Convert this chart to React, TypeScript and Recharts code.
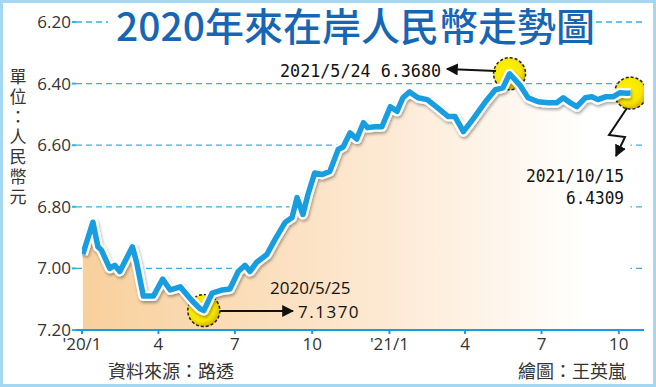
import React from 'react';
import { ComposedChart, Area, Line, XAxis, YAxis, CartesianGrid } from 'recharts';

// onshore CNY per USD
const dates = [
  '2020-01-02', '2020-01-14', '2020-01-20', '2020-01-24', '2020-02-03', '2020-02-09', '2020-02-15',
  '2020-03-01', '2020-03-06', '2020-03-14', '2020-03-26', '2020-04-06', '2020-04-15', '2020-04-27',
  '2020-05-11', '2020-05-20', '2020-05-25', '2020-06-04', '2020-06-16', '2020-06-25', '2020-07-05',
  '2020-07-13', '2020-07-19', '2020-07-27', '2020-08-08', '2020-08-18', '2020-08-30', '2020-09-07',
  '2020-09-13', '2020-09-20', '2020-09-26', '2020-10-04', '2020-10-13', '2020-10-22', '2020-11-01',
  '2020-11-07', '2020-11-15', '2020-11-23', '2020-12-01', '2020-12-06', '2020-12-15', '2020-12-23',
  '2021-01-02', '2021-01-10', '2021-01-17', '2021-01-25', '2021-02-04', '2021-02-15', '2021-02-27',
  '2021-03-12', '2021-03-20', '2021-03-30', '2021-04-10', '2021-04-25', '2021-05-07', '2021-05-16',
  '2021-05-24', '2021-06-05', '2021-06-15', '2021-06-27', '2021-07-09', '2021-07-19', '2021-07-27',
  '2021-08-04', '2021-08-12', '2021-08-22', '2021-08-30', '2021-09-06', '2021-09-15', '2021-09-24',
  '2021-10-02', '2021-10-11', '2021-10-15',
];
const rates = [
  6.954, 6.85, 6.93, 6.94, 7.0, 6.99, 7.01,
  6.93, 6.98, 7.09, 7.09, 7.035, 7.07, 7.06,
  7.105, 7.13, 7.137, 7.08, 7.07, 7.067, 7.01,
  6.99, 7.01, 6.98, 6.955, 6.905, 6.85, 6.835,
  6.77, 6.825, 6.76, 6.69, 6.695, 6.685, 6.614,
  6.605, 6.56, 6.58, 6.527, 6.543, 6.54, 6.54,
  6.475, 6.49, 6.446, 6.427, 6.446, 6.452, 6.478,
  6.507, 6.507, 6.556, 6.517, 6.46, 6.42, 6.414,
  6.368, 6.404, 6.446, 6.459, 6.462, 6.462, 6.446,
  6.462, 6.475, 6.446, 6.443, 6.452, 6.443, 6.443,
  6.43, 6.431, 6.4309,
];
const xTickDates = ['2020-01-01', '2020-04-01', '2020-07-01', '2020-10-01', '2021-01-01', '2021-04-01', '2021-07-01', '2021-10-01'];
const xTickLabels = ["'20/1", '4', '7', '10', "'21/1", '4', '7', '10'];
const yTicks = [6.2, 6.4, 6.6, 6.8, 7.0, 7.2];
const highlightDates = ['2020-05-25', '2021-05-24', '2021-10-15'];

const dayOf = (s: string) => {
  const [y, m, d] = s.split('-').map(Number);
  return (Date.UTC(y, m - 1, d) - Date.UTC(2020, 0, 1)) / 86400000;
};

const data = dates.map((d, i) => ({ day: dayOf(d), rate: rates[i], mark: highlightDates.includes(d) }));
const xTicks = xTickDates.map(dayOf);

const BLUE = '#179de0';
const GRID = '#3aaee0';
const TXT = '#333';
const SANS = '"Open Sans", "Noto Sans CJK TC", sans-serif';
const CJK = '"Noto Sans CJK TC", sans-serif';
const MONO = '"DejaVu Sans Mono", monospace';

// yellow dashed circles behind the line at the three labelled points
const HighlightDot = (props: any) => {
  if (!props.payload || !props.payload.mark) return <g key={props.index} />;
  return (
    <circle key={props.index} cx={props.cx} cy={props.cy} r={16} fill="url(#dotFill)" stroke="#222" strokeWidth={1.5} strokeDasharray="3 2" />
  );
};

export default function App() {
  return (
    <div style={{ position: 'absolute', left: 0, top: 0, width: 656, height: 387, background: '#fff' }}>
      <ComposedChart width={656} height={387} data={data} margin={{ top: 22, right: 12, bottom: 27, left: 0 }}>
        <defs>
          <linearGradient id="areaFill" x1="0" y1="0" x2="1" y2="0">
            <stop offset="0%" stopColor="#f8d09c" />
            <stop offset="55%" stopColor="#fde9d3" />
            <stop offset="92%" stopColor="#ffffff" />
          </linearGradient>
          <radialGradient id="dotFill" cx="42%" cy="40%" r="65%">
            <stop offset="0%" stopColor="#fff400" />
            <stop offset="65%" stopColor="#f7e600" />
            <stop offset="100%" stopColor="#cfa800" />
          </radialGradient>
          <filter id="lineShadow" x="-5%" y="-5%" width="110%" height="115%">
            <feDropShadow dx="1" dy="2" stdDeviation="1.5" floodColor="#000" floodOpacity="0.35" />
          </filter>
        </defs>
        <CartesianGrid vertical={false} stroke={GRID} strokeDasharray="6 4" strokeWidth={1.3} />
        <XAxis
          dataKey="day"
          type="number"
          domain={[0, 669]}
          ticks={xTicks}
          tickFormatter={(v: number) => xTickLabels[xTicks.indexOf(v)]}
          padding={{ left: 6, right: 0 }}
          axisLine={{ stroke: BLUE, strokeWidth: 2 }}
          tickLine={{ stroke: BLUE, strokeWidth: 2 }}
          tickSize={4}
          tickMargin={4}
          tick={{ fill: TXT, fontSize: 17, fontFamily: SANS }}
          height={30}
          allowDataOverflow
        />
        <YAxis
          type="number"
          reversed
          domain={[6.2, 7.2]}
          ticks={yTicks}
          tickFormatter={(v: number) => v.toFixed(2)}
          axisLine={false}
          tickLine={{ stroke: GRID, strokeWidth: 2 }}
          tickSize={4}
          tickMargin={1}
          tick={{ fill: TXT, fontSize: 17, fontFamily: SANS }}
          width={76}
          allowDataOverflow
        />
        <Area dataKey="rate" type="linear" baseValue={7.2} fill="url(#areaFill)" fillOpacity={1} stroke="none" dot={HighlightDot} activeDot={false} zIndex={100} isAnimationActive={false} />
        <Line dataKey="rate" type="linear" stroke="#fff" strokeWidth={10} dot={false} filter="url(#lineShadow)" strokeLinejoin="round" zIndex={1500} isAnimationActive={false} />
        <Line dataKey="rate" type="linear" stroke={BLUE} strokeWidth={5.5} dot={false} strokeLinejoin="round" zIndex={1501} isAnimationActive={false} />
      </ComposedChart>

      <svg width={656} height={387} style={{ position: 'absolute', left: 0, top: 0, pointerEvents: 'none' }}>
        <defs>
          <marker id="arrowHead" viewBox="0 0 10 10" refX="9" refY="5" markerWidth="6" markerHeight="6" orient="auto-start-reverse">
            <path d="M0,0 L10,5 L0,10 z" fill="#111" />
          </marker>
        </defs>
        {/* frame */}
        <rect x={1.5} y={1.5} width={653} height={384} fill="none" stroke="#a4d7f1" strokeWidth={3} />
        {/* title */}
        <rect x={108} y={5} width={488} height={48} fill="#fff" />
        <text x={116} y={41} fontSize={39} fontWeight={500} fill="#1766b4" fontFamily={CJK}>
          2020年來在岸人民幣走勢圖
        </text>
        {/* unit */}
        <text x={18} y={68} fontSize={17} fill={TXT} fontFamily={CJK} letterSpacing={3} style={{ writingMode: 'vertical-rl' }}>
          單位：人民幣元
        </text>
        {/* footer */}
        <text x={108} y={378} fontSize={18} fill={TXT} fontFamily={CJK}>資料來源：路透</text>
        <text x={626} y={378} fontSize={18} fill={TXT} fontFamily={CJK} textAnchor="end">繪圖：王英嵐</text>

        {/* peak annotation */}
        <text x={441} y={77} fontSize={18} fill="#111" fontFamily={MONO} textAnchor="end" textLength={161} lengthAdjust="spacingAndGlyphs">2021/5/24  6.3680</text>
        <line x1={496} y1={71} x2={447} y2={69} stroke="#111" strokeWidth={2} markerEnd="url(#arrowHead)" />

        {/* low annotation */}
        <text x={270} y={294} fontSize={17} fill="#111" fontFamily={SANS}>2020/5/25</text>
        <text x={298} y={318} fontSize={17} fill="#111" fontFamily={SANS} letterSpacing={1.5}>7.1370</text>
        <line x1={220} y1={311} x2={293} y2={311} stroke="#111" strokeWidth={2} markerEnd="url(#arrowHead)" />

        {/* latest annotation */}
        <polyline points="627,108 609,135 625,137 616,156" fill="none" stroke="#111" strokeWidth={2} markerEnd="url(#arrowHead)" />
        <text x={624} y={182} fontSize={18} fill="#111" fontFamily={MONO} textAnchor="end" textLength={98} lengthAdjust="spacingAndGlyphs">2021/10/15</text>
        <text x={624} y={204} fontSize={18} fill="#111" fontFamily={MONO} textAnchor="end" textLength={58} lengthAdjust="spacingAndGlyphs">6.4309</text>
      </svg>
    </div>
  );
}
